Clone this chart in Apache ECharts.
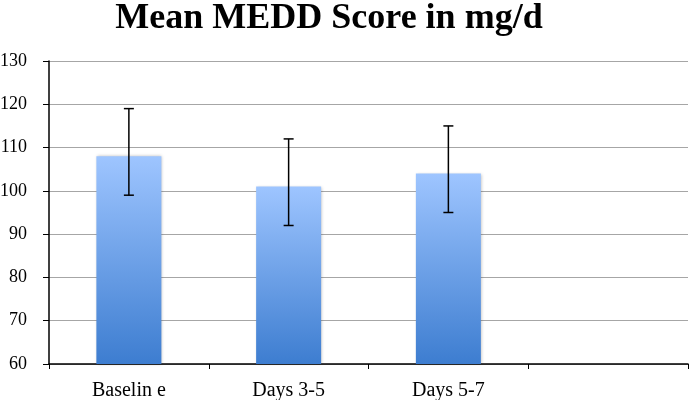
<!DOCTYPE html>
<html>
<head>
<meta charset="utf-8">
<script src="https://cdn.jsdelivr.net/npm/echarts@6/dist/echarts.min.js"></script>
<style>
  html, body { margin: 0; padding: 0; background: #fff; }
  #chart { width: 689px; height: 400px; }
</style>
</head>
<body>
<div id="chart"></div>
<script>
var categories = ["Baselin e", "Days 3-5", "Days 5-7", ""];
var means = [108, 101, 104, null];
var errLow = [99, 92, 95, null];
var errHigh = [119, 112, 115, null];

var errData = [];
for (var i = 0; i < categories.length; i++) {
  if (means[i] != null) errData.push([i, errLow[i], errHigh[i]]);
}

var chart = echarts.init(document.getElementById("chart"));
chart.setOption({
  animation: false,
  title: {
    text: "Mean MEDD Score in mg/d",
    left: 324,
    textAlign: "center",
    top: -4,
    textStyle: {
      fontFamily: "Liberation Serif",
      fontWeight: "bold",
      fontSize: 36,
      color: "#000"
    }
  },
  grid: { left: 49, right: 1, top: 61, bottom: 36, outerBoundsMode: "none", containLabel: false },
  xAxis: {
    type: "category",
    data: categories,
    axisLine: { lineStyle: { color: "#000", width: 1.5 } },
    axisTick: { show: true, alignWithLabel: false, length: 5, lineStyle: { color: "#000" } },
    axisLabel: {
      fontFamily: "Liberation Serif",
      fontSize: 20,
      color: "#000",
      margin: 17
    }
  },
  yAxis: {
    type: "value",
    min: 60,
    max: 130,
    interval: 10,
    axisLine: { show: true, lineStyle: { color: "#000", width: 1.5 } },
    axisTick: { show: true, length: 6, lineStyle: { color: "#000" } },
    axisLabel: {
      fontFamily: "Liberation Serif",
      fontSize: 18,
      color: "#000",
      margin: 22
    },
    splitLine: { lineStyle: { color: "#a6a6a6", width: 1.2 } }
  },
  series: [
    {
      type: "bar",
      data: means,
      barWidth: 65,
      itemStyle: {
        color: new echarts.graphic.LinearGradient(0, 0, 0, 1, [
          { offset: 0, color: "#9ec5ff" },
          { offset: 1, color: "#3d7dd0" }
        ]),
        shadowColor: "rgba(0,0,0,0.25)",
        shadowBlur: 3,
        shadowOffsetX: 1
      }
    },
    {
      type: "custom",
      data: errData,
      z: 10,
      renderItem: function (params, api) {
        var x = api.value(0);
        var lo = api.coord([x, api.value(1)]);
        var hi = api.coord([x, api.value(2)]);
        var hw = 5;
        var st = { stroke: "#000", lineWidth: 1.5 };
        return {
          type: "group",
          children: [
            { type: "line", shape: { x1: lo[0], y1: lo[1], x2: hi[0], y2: hi[1] }, style: st },
            { type: "line", shape: { x1: lo[0] - hw, y1: lo[1], x2: lo[0] + hw, y2: lo[1] }, style: st },
            { type: "line", shape: { x1: hi[0] - hw, y1: hi[1], x2: hi[0] + hw, y2: hi[1] }, style: st }
          ]
        };
      }
    }
  ]
});
</script>
</body>
</html>
